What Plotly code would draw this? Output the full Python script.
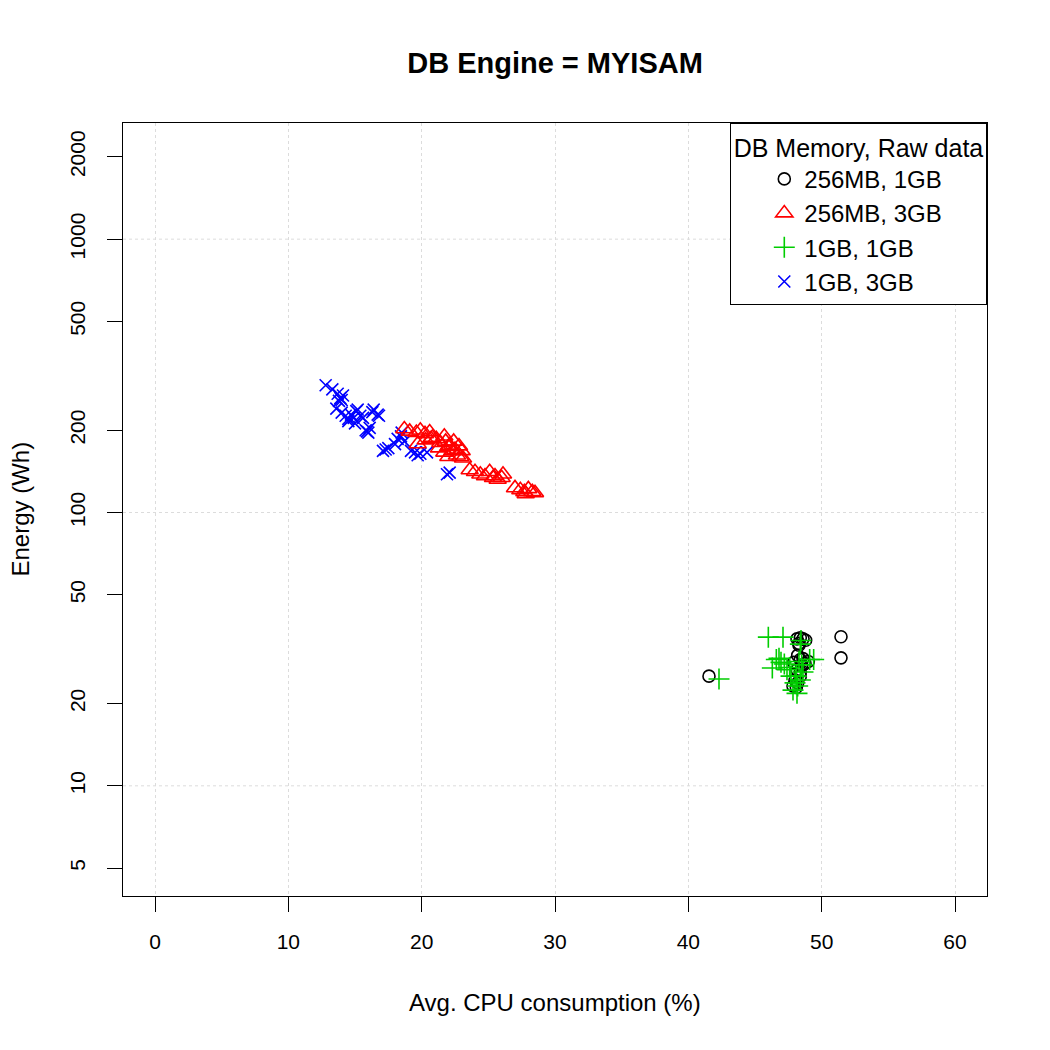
import plotly.graph_objects as go

# ---- data ----
# 256MB, 1GB (black circles)
cpu_256_1 = [41.55, 51.45, 51.45, 48.15, 48.4, 48.6, 48.8, 48.3, 48.4, 48.6, 48.75, 49.0,
             48.15, 48.4, 48.0, 48.2, 47.85, 48.1, 48.4, 48.5, 47.9, 48.2, 48.3]
en_256_1 = [25.2, 35.1, 29.4, 34.5, 34.8, 34.5, 34.1, 32.7, 29.0, 29.2, 28.0, 28.5,
            26.6, 26.1, 24.4, 23.8, 23.2, 22.9, 25.2, 27.6, 28.3, 30.0, 33.2]

# 256MB, 3GB (red triangles)
cpu_256_3 = [18.7, 19.1, 19.6, 19.9, 20.25, 20.6, 20.8, 21.1, 21.4, 21.7, 21.8, 22.0, 22.1,
             22.3, 22.5, 22.65, 22.9, 23.0, 22.0, 21.7, 21.3, 20.7, 20.3, 19.7, 22.4, 22.8,
             23.1, 23.6, 24.0, 24.4, 24.75, 25.1, 25.35, 25.7, 26.1, 27.0, 27.4, 27.7, 28.0,
             28.3, 28.5, 27.8, 26.0, 25.5]
en_256_3 = [202, 198, 196, 200, 194, 197, 188, 186, 180, 190, 182, 174, 176,
            168, 170, 162, 160, 168, 160, 166, 172, 186, 184, 178, 182, 175,
            158, 143, 141, 138, 136, 141, 134, 132, 138, 123, 121, 119, 122,
            119, 118, 117, 134, 136]

# 1GB, 1GB (green pluses)
cpu_1_1 = [46.0, 47.1, 46.3, 46.6, 46.8, 46.95, 47.2, 47.4, 47.6, 47.7, 48.0, 47.85, 48.2,
           48.4, 48.6, 49.1, 49.4, 42.3, 48.45, 48.4, 48.3, 48.5, 48.1, 48.15]
en_1_1 = [35.0, 35.0, 27.0, 29.0, 29.3, 28.3, 27.9, 26.6, 27.1, 25.2, 23.8, 22.4, 23.2,
          24.4, 26.1, 29.0, 29.0, 24.6, 34.0, 33.0, 28.5, 27.7, 25.2, 21.8]

# 1GB, 3GB (blue crosses)
cpu_1_3 = [12.8, 13.3, 13.7, 13.9, 14.1, 14.0, 13.6, 14.0, 14.3, 14.5, 14.7, 14.9, 15.1, 15.2,
           15.4, 15.6, 15.8, 16.0, 16.1, 16.3, 16.4, 16.7, 16.8, 15.9, 17.1, 17.3, 17.5, 18.2,
           18.45, 18.7, 18.5, 19.5, 19.7, 19.9, 20.4, 21.9, 22.1, 14.5, 15.0, 13.8, 18.0, 19.2]
en_1_3 = [292, 282, 272, 262, 268, 258, 240, 232, 226, 220, 228, 222, 235, 238,
          226, 222, 200, 196, 204, 233, 238, 228, 226, 198, 168, 170, 172, 186,
          190, 182, 196, 166, 162, 164, 166, 138, 140, 216, 212, 256, 178, 168]

x_ticks = [0, 10, 20, 30, 40, 50, 60]
y_ticks = [5, 10, 20, 50, 100, 200, 500, 1000, 2000]
y_grid = [10, 100, 1000]

FONT = "Liberation Sans, Arial, Helvetica, sans-serif"

fig = go.Figure()

fig.add_trace(go.Scatter(x=cpu_256_1, y=en_256_1, mode="markers", name="256MB, 1GB",
                         legendrank=1,
                         marker=dict(symbol="circle-open", size=12, color="black",
                                     line=dict(width=1.6, color="black"))))
fig.add_trace(go.Scatter(x=cpu_1_1, y=en_1_1, mode="markers", name="1GB, 1GB",
                         legendrank=3,
                         marker=dict(symbol="cross-thin-open", size=15, color="#00CD00",
                                     line=dict(width=1.6, color="#00CD00"))))
fig.add_trace(go.Scatter(x=cpu_1_3, y=en_1_3, mode="markers", name="1GB, 3GB",
                         legendrank=4,
                         marker=dict(symbol="x-thin-open", size=12, color="#0000FF",
                                     line=dict(width=1.6, color="#0000FF"))))
fig.add_trace(go.Scatter(x=cpu_256_3, y=en_256_3, mode="markers", name="256MB, 3GB",
                         legendrank=2,
                         marker=dict(symbol="triangle-up-open", size=15, color="#FF0000",
                                     line=dict(width=1.6, color="#FF0000"))))

fig.update_layout(
    width=1050, height=1050,
    margin=dict(l=123, r=63, t=123, b=154),
    paper_bgcolor="white", plot_bgcolor="white",
    font=dict(family=FONT, color="black", size=21),
    title=dict(text="<b>DB Engine = MYISAM</b>", x=0.5286, xanchor="center",
               y=1 - 63 / 1050, yanchor="middle", font=dict(size=29, family=FONT)),
    showlegend=True,
    legend=dict(x=1, y=1, xanchor="right", yanchor="top",
                bgcolor="white", bordercolor="black", borderwidth=1.3,
                font=dict(size=24, family=FONT),
                title=dict(text="DB Memory, Raw data", side="top center",
                           font=dict(size=25, family=FONT)),
                indentation=33, tracegroupgap=0),
)

fig.update_xaxes(
    range=[-2.4, 62.4], tickmode="array", tickvals=x_ticks,
    ticktext=[str(v) for v in x_ticks],
    showline=True, linecolor="black", linewidth=1.3, mirror=True,
    ticks="outside", ticklen=15, tickwidth=1.3, tickcolor="black",
    ticklabelstandoff=12,
    showgrid=True, gridcolor="#dcdcdc", griddash="dot", gridwidth=1,
    zeroline=False, tickfont=dict(size=21),
)
fig.update_yaxes(
    type="log", range=[0.597, 3.425], tickmode="array", tickvals=y_ticks,
    ticktext=[str(v) for v in y_ticks], tickangle=-90,
    showline=True, linecolor="black", linewidth=1.3, mirror=True,
    ticks="outside", ticklen=15, tickwidth=1.3, tickcolor="black",
    ticklabelstandoff=13,
    showgrid=False, zeroline=False, tickfont=dict(size=21),
)

# dotted horizontal grid only at decades (as in the reference)
for g in y_grid:
    fig.add_hline(y=g, line=dict(color="#dcdcdc", width=1, dash="dot"), layer="below")

fig.add_annotation(text="Avg. CPU consumption (%)", xref="paper", yref="paper",
                   x=0.5, y=-106 / 773, xanchor="center", yanchor="middle",
                   showarrow=False, font=dict(size=24, family=FONT))
fig.add_annotation(text="Energy (Wh)", xref="paper", yref="paper",
                   x=-103 / 864, y=0.5, xanchor="center", yanchor="middle",
                   textangle=-90, showarrow=False, font=dict(size=24, family=FONT))

fig.write_html("out.html")
